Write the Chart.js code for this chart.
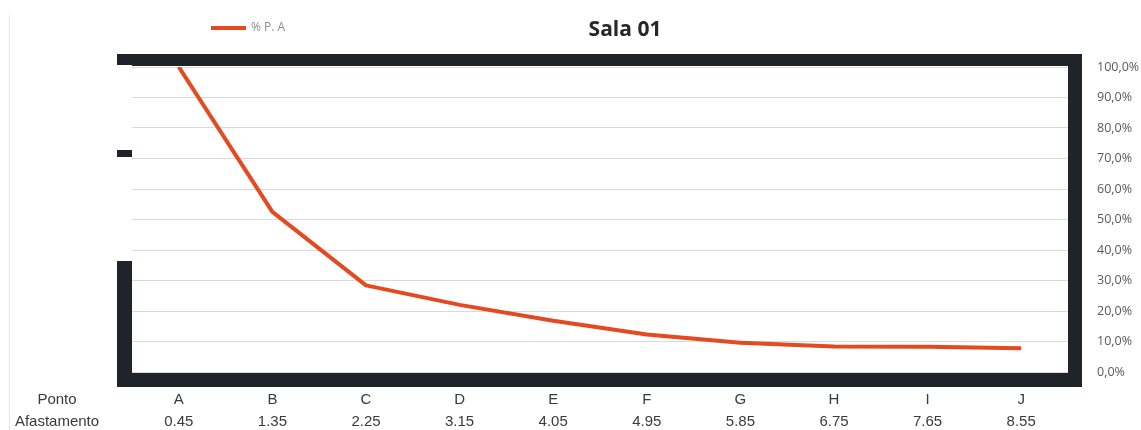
<!DOCTYPE html>
<html>
<head>
<meta charset="utf-8">
<title>Sala 01</title>
<script src="https://cdn.jsdelivr.net/npm/chart.js@4/dist/chart.umd.min.js"></script>
<style>
  html, body { margin:0; padding:0; background:#fff; }
  #wrap { width:1141px; height:430px; position:relative; }
</style>
</head>
<body>
<div id="wrap"><canvas id="chart-sala" width="1141" height="430"></canvas></div>
<script>
// ── Data ─────────────────────────────────────────────────────
const pontos      = ['A','B','C','D','E','F','G','H','I','J'];
const afastamento = ['0.45','1.35','2.25','3.15','4.05','4.95','5.85','6.75','7.65','8.55'];
const pctPA       = [100, 52.5, 28.4, 22.0, 16.8, 12.3, 9.6, 8.4, 8.3, 7.8];
const yTicks      = [0, 10, 20, 30, 40, 50, 60, 70, 80, 90, 100];
const rowLabels   = ['Ponto', 'Afastamento'];
const seriesName  = '% P. A';
const chartTitle  = 'Sala 01';

const C = { line:'#e4491f', frame:'#1f242a', grid:'#d9d9d9', tick:'#595959', xtick:'#3a3a3a', legend:'#8a8a8a', title:'#262626', edge:'#e6e6e6' };

// ── Frame, title, legend, row captions ───────────────────────
const decor = {
  id:'decor',
  beforeDraw(chart) {
    const { ctx, chartArea:a } = chart;
    ctx.save();
    // faint page edge on the left
    ctx.fillStyle = C.edge;
    ctx.fillRect(9, 15, 1, 415);
    // thick dark frame round the plot
    ctx.fillStyle = C.frame;
    ctx.fillRect(a.left - 15, a.top - 13, (a.right + 14) - (a.left - 15), (a.bottom + 15) - (a.top - 13));
    ctx.fillStyle = '#fff';
    ctx.fillRect(a.left, a.top - 1, a.right - a.left, a.bottom - a.top + 2);
    // the left bar is broken in the original
    ctx.fillRect(a.left - 15, a.top - 2, 15, 85);
    ctx.fillRect(a.left - 15, a.top + 90, 15, 104);
    ctx.restore();
  },
  afterDraw(chart) {
    const { ctx, chartArea:a } = chart;
    const ds = chart.data.datasets[0];
    ctx.save();
    // title
    ctx.fillStyle = C.title;
    ctx.font = 'bold 21px "Open Sans", sans-serif';
    ctx.textAlign = 'center'; ctx.textBaseline = 'middle';
    ctx.fillText(chartTitle, 625, 30);
    // legend
    ctx.strokeStyle = ds.borderColor; ctx.lineWidth = 4;
    ctx.beginPath(); ctx.moveTo(211, 28); ctx.lineTo(246, 28); ctx.stroke();
    ctx.fillStyle = C.legend;
    ctx.font = '12px "Open Sans", sans-serif';
    ctx.textAlign = 'left';
    ctx.fillText(ds.label, 251, 28);
    // row captions under the plot, on the same lines as the x labels
    ctx.fillStyle = C.xtick;
    ctx.font = '15px "Liberation Sans", Arial, sans-serif';
    ctx.textAlign = 'center';
    rowLabels.forEach((t, i) => ctx.fillText(t, 57, a.bottom + 28 + i * 22));
    ctx.restore();
  }
};

// ── Chart ─────────────────────────────────────────────────────
const ctx = document.getElementById('chart-sala').getContext('2d');
new Chart(ctx, {
  type:'line',
  data:{
    labels: pontos.map((p, i) => [p, afastamento[i]]),
    datasets:[{ label:seriesName, data:pctPA, borderColor:C.line, backgroundColor:C.line,
      borderWidth:4, pointRadius:0, tension:0, borderCapStyle:'butt', borderJoinStyle:'round' }]
  },
  options:{
    responsive:false, animation:false, devicePixelRatio:1,
    layout:{ padding:{ left:132, top:67, right:0, bottom:0 } },
    plugins:{ legend:{display:false}, title:{display:false}, tooltip:{enabled:false} },
    scales:{
      x:{ offset:true, grid:{display:false, drawTicks:false}, border:{display:false},
          ticks:{ color:C.xtick, padding:17, maxRotation:0, autoSkip:false,
                  font:{ family:'"Liberation Sans", Arial, sans-serif', size:15, lineHeight:22/15 } },
          afterFit(s) { s.height = 58; } },
      y:{ position:'right', min:0, max:100,
          afterBuildTicks(s) { s.ticks = yTicks.map(v => ({ value:v })); },
          grid:{ color:C.grid, lineWidth:1, drawTicks:false }, border:{display:false},
          ticks:{ color:C.tick, padding:29, font:{ family:'"Open Sans", sans-serif', size:12.5 },
                  callback:v => v.toFixed(1).replace('.', ',') + '%' },
          afterFit(s) { s.width = 73; } }
    }
  },
  plugins:[decor]
});
</script>
</body>
</html>
